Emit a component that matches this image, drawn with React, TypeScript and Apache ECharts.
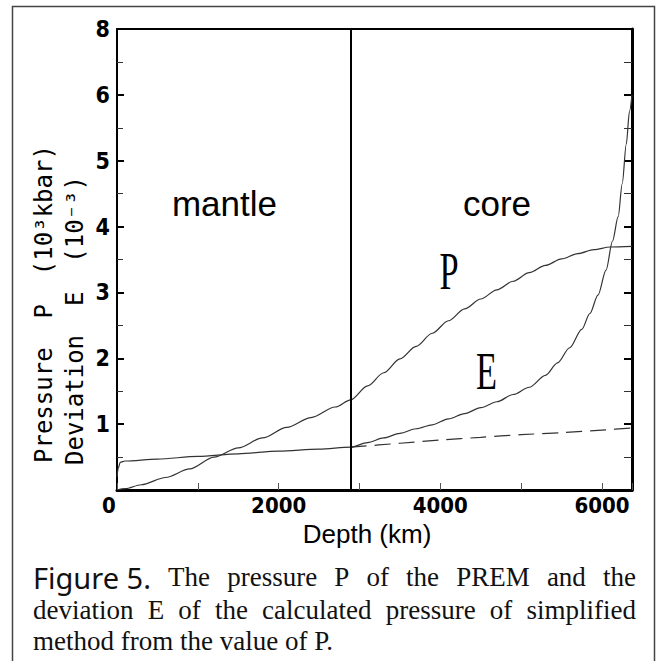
import React, { useEffect, useRef } from 'react';
import * as echarts from 'echarts';

// ---- Data ----
const CMB_DEPTH = 2891; // core-mantle boundary, km
const EARTH_RADIUS = 6371;

const depthP = [0, 100, 300, 600, 900, 1200, 1500, 1800, 2100, 2400, 2700, 2891, 3100, 3300, 3500, 3700, 3900, 4100, 4300, 4500, 4700, 4900, 5100, 5300, 5500, 5700, 5900, 6100, 6371];
const pressureP = [0, 0.02, 0.08, 0.19, 0.32, 0.5, 0.64, 0.79, 0.95, 1.1, 1.26, 1.37, 1.58, 1.78, 1.99, 2.18, 2.38, 2.57, 2.75, 2.9, 3.04, 3.17, 3.3, 3.41, 3.51, 3.59, 3.65, 3.69, 3.7];

const depthE = [0, 15, 40, 100, 500, 1000, 1500, 2000, 2500, 2891, 3100, 3300, 3500, 3700, 3900, 4100, 4300, 4500, 4700, 4900, 5100, 5300, 5450, 5600, 5750, 5850, 5950, 6050, 6130, 6200, 6250, 6300, 6340, 6371];
const deviationE = [0.2, 0.33, 0.42, 0.44, 0.47, 0.51, 0.55, 0.59, 0.62, 0.65, 0.72, 0.79, 0.86, 0.93, 0.99, 1.08, 1.16, 1.25, 1.34, 1.45, 1.56, 1.74, 1.93, 2.16, 2.44, 2.68, 2.96, 3.34, 3.78, 4.15, 4.65, 5.25, 5.75, 6.0];

const depthDash = [2891, 3500, 4000, 4500, 5000, 5500, 6000, 6371];
const deviationDash = [0.65, 0.71, 0.76, 0.8, 0.84, 0.87, 0.91, 0.94];

const yTickValues = [0, 1, 2, 3, 4, 5, 6, 7];
const yTickLabels = ['', '1', '2', '3', '4', '5', '6', '8'];
const xLabelValues = [0, 2000, 4000, 6000];

const yTitle1 = 'Pressure  P  (10³kbar)';
const yTitle2 = 'Deviation  E  (10⁻³)';
const xTitle = 'Depth (km)';

const captionLabel = 'Figure 5.';
const captionLine1 = ['The', 'pressure', 'P', 'of', 'the', 'PREM', 'and', 'the'];
const captionLine2 = ['deviation', 'E', 'of', 'the', 'calculated', 'pressure', 'of', 'simplified'];
const captionLine3 = 'method from the value of P.';

const NARROW = "'Liberation Sans Narrow', 'DejaVu Sans Condensed', 'Arial Narrow', sans-serif";
const SANS = "'Liberation Sans', Arial, sans-serif";
const SERIF = "'Liberation Serif', 'Times New Roman', serif";
const CAP_SANS = "'Noto Sans', 'Open Sans', sans-serif";
const MONO = "'DejaVu Sans Mono', monospace";

function measure(ctx: CanvasRenderingContext2D, text: string, font: string) {
  ctx.font = font;
  return ctx.measureText(text).width;
}

function justifiedLine(
  ctx: CanvasRenderingContext2D,
  items: { text: string; family: string; size: number; color: string }[],
  x0: number,
  x1: number,
  y: number
) {
  const widths = items.map((it) => measure(ctx, it.text, `${it.size}px ${it.family}`));
  const total = widths.reduce((a, b) => a + b, 0);
  const gap = (x1 - x0 - total) / (items.length - 1);
  let x = x0;
  return items.map((it, i) => {
    const el = {
      type: 'text',
      x,
      y,
      style: {
        text: it.text,
        font: `${it.size}px ${it.family}`,
        fill: it.color,
        align: 'left',
        verticalAlign: 'middle',
      },
    };
    x += widths[i] + gap;
    return el;
  });
}

export default function App() {
  const ref = useRef<HTMLDivElement>(null);
  useEffect(() => {
    document.body.style.margin = '0';
    const chart = echarts.init(ref.current!, null, { renderer: 'svg' });
    const canvas = document.createElement('canvas');
    const ctx = canvas.getContext('2d')!;

    const serifSize = 27;
    const line1 = justifiedLine(
      ctx,
      [
        { text: captionLabel, family: CAP_SANS, size: 29, color: '#111' },
        ...captionLine1.map((w) => ({ text: w, family: SERIF, size: serifSize, color: '#111' })),
      ],
      33,
      636,
      577
    );
    const line2 = justifiedLine(
      ctx,
      captionLine2.map((w) => ({ text: w, family: SERIF, size: serifSize, color: '#111' })),
      33,
      636,
      610
    );

    const axisText = { color: '#000', fontFamily: NARROW, fontWeight: 'bold' as const };

    const option: any = {
      animation: false,
      backgroundColor: '#fff',
      grid: { left: 117, right: 28, top: 29, bottom: 171, show: false },
      xAxis: [
        {
          type: 'value',
          position: 'bottom',
          min: 0,
          max: EARTH_RADIUS,
          interval: 1000,
          splitLine: { show: false },
          axisLine: { show: true, onZero: false, lineStyle: { color: '#000', width: 3 } },
          axisTick: { show: true, inside: true, length: 7, lineStyle: { color: '#555', width: 1 } },
          axisLabel: {
            show: true,
            margin: 4,
            ...axisText,
            fontSize: 22,
            formatter: (v: number) => {
              if (v === 0) return '{z|0}';
              return xLabelValues.includes(v) ? String(v) : '';
            },
            rich: {
              z: { fontSize: 22, fontFamily: NARROW, fontWeight: 'bold', color: '#000', padding: [0, 16, 0, 0] },
            },
          },
          name: xTitle,
          nameLocation: 'middle',
          nameGap: 27,
          nameTextStyle: { fontFamily: SANS, fontSize: 26, color: '#000', padding: [0, 15, 0, 0] },
        },
        {
          type: 'value',
          position: 'top',
          min: 0,
          max: EARTH_RADIUS,
          interval: 1000,
          splitLine: { show: false },
          axisLine: { show: true, onZero: false, lineStyle: { color: '#000', width: 2 } },
          axisTick: { show: false },
          axisLabel: { show: false },
        },
      ],
      yAxis: [
        {
          type: 'value',
          position: 'left',
          min: 0,
          max: 7,
          interval: 1,
          splitLine: { show: false },
          axisLine: { show: true, onZero: false, lineStyle: { color: '#000', width: 2 } },
          axisTick: { show: true, inside: true, length: 7, lineStyle: { color: '#000', width: 2 } },
          minorTick: { show: true, splitNumber: 2, length: 6, lineStyle: { color: '#333', width: 1 } },
          axisLabel: {
            show: true,
            margin: 7,
            ...axisText,
            fontSize: 23,
            formatter: (v: number) => {
              const i = yTickValues.indexOf(v);
              return i >= 0 ? yTickLabels[i] : '';
            },
          },
        },
        {
          type: 'value',
          position: 'right',
          min: 0,
          max: 7,
          interval: 1,
          splitLine: { show: false },
          axisLine: { show: true, onZero: false, lineStyle: { color: '#000', width: 3 } },
          axisTick: { show: true, inside: true, length: 8, lineStyle: { color: '#000', width: 2 } },
          minorTick: { show: true, splitNumber: 2, length: 8, lineStyle: { color: '#333', width: 1 } },
          axisLabel: { show: false },
        },
      ],
      series: [
        {
          name: 'P',
          type: 'line',
          xAxisIndex: 0,
          yAxisIndex: 0,
          data: depthP.map((d, i) => [d, pressureP[i]]),
          showSymbol: false,
          smooth: 0.3,
          smoothMonotone: 'x',
          lineStyle: { color: '#333', width: 1.2 },
          markLine: {
            silent: true,
            symbol: ['none', 'none'],
            label: { show: false },
            lineStyle: { color: '#000', width: 2, type: 'solid' },
            data: [{ xAxis: CMB_DEPTH }],
          },
        },
        {
          name: 'E',
          type: 'line',
          xAxisIndex: 0,
          yAxisIndex: 0,
          data: depthE.map((d, i) => [d, deviationE[i]]),
          showSymbol: false,
          smooth: 0.3,
          smoothMonotone: 'x',
          lineStyle: { color: '#333', width: 1.2 },
        },
        {
          name: 'E dashed',
          type: 'line',
          xAxisIndex: 0,
          yAxisIndex: 0,
          data: depthDash.map((d, i) => [d, deviationDash[i]]),
          showSymbol: false,
          smooth: 0.3,
          lineStyle: { color: '#333', width: 1.2, type: [16, 8] },
        },
      ],
      graphic: [
        {
          type: 'rect',
          silent: true,
          z: -10,
          shape: { x: 12.5, y: 6.5, width: 642, height: 680 },
          style: { fill: 'none', stroke: '#444', lineWidth: 1.5 },
        },
        {
          type: 'text',
          x: 44,
          y: 463,
          rotation: Math.PI / 2,
          style: { text: yTitle1, font: `24px ${MONO}`, fill: '#000', align: 'left', verticalAlign: 'middle' },
        },
        {
          type: 'text',
          x: 75,
          y: 465,
          rotation: Math.PI / 2,
          style: { text: yTitle2, font: `24px ${MONO}`, fill: '#000', align: 'left', verticalAlign: 'middle' },
        },
        {
          type: 'text',
          x: 224.5,
          y: 203,
          style: { text: 'mantle', font: `35px ${SANS}`, fill: '#000', align: 'center', verticalAlign: 'middle' },
        },
        {
          type: 'text',
          x: 497,
          y: 203,
          style: { text: 'core', font: `35px ${SANS}`, fill: '#000', align: 'center', verticalAlign: 'middle' },
        },
        {
          type: 'text',
          x: 449,
          y: 272,
          scaleX: 0.66,
          style: { text: 'P', font: `52px ${SERIF}`, fill: '#000', align: 'center', verticalAlign: 'middle' },
        },
        {
          type: 'text',
          x: 486.5,
          y: 372,
          scaleX: 0.66,
          style: { text: 'E', font: `52px ${SERIF}`, fill: '#000', align: 'center', verticalAlign: 'middle' },
        },
        ...line1,
        ...line2,
        {
          type: 'text',
          x: 33,
          y: 641,
          style: {
            text: captionLine3,
            font: `${serifSize}px ${SERIF}`,
            fill: '#111',
            align: 'left',
            verticalAlign: 'middle',
          },
        },
      ],
    };
    chart.setOption(option);
    return () => chart.dispose();
  }, []);
  return <div ref={ref} style={{ width: 660, height: 661 }} />;
}
